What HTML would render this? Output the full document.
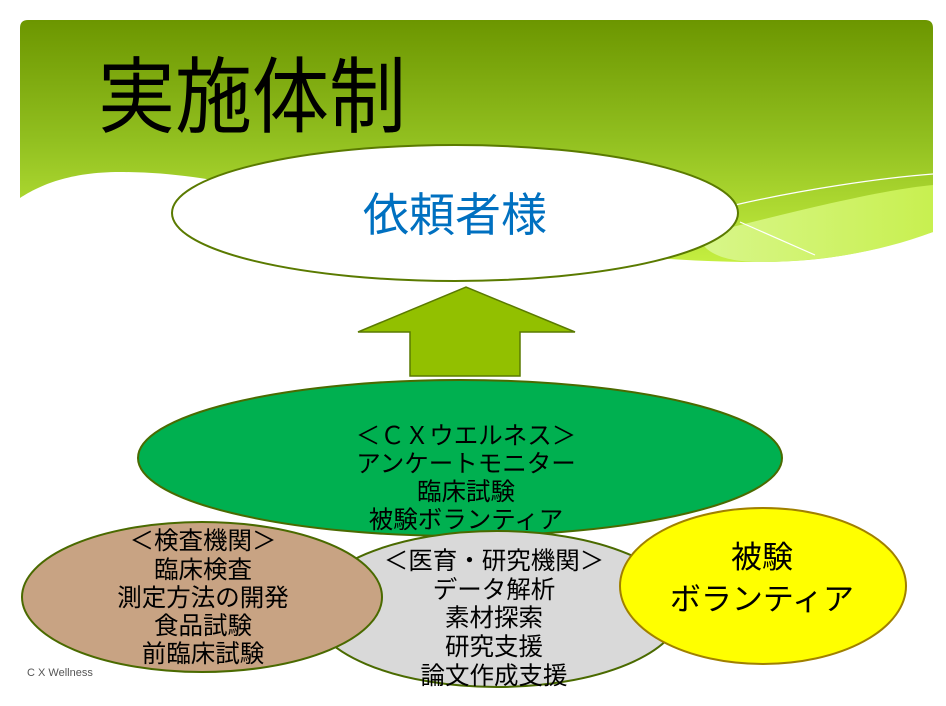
<!DOCTYPE html>
<html><head><meta charset="utf-8"><style>
html,body{margin:0;padding:0;background:#fff;}
svg{display:block;}
text{font-family:"Liberation Sans","Noto Sans CJK JP",sans-serif;}
</style></head><body>
<svg width="946" height="706" viewBox="0 0 946 706" xmlns="http://www.w3.org/2000/svg">
<defs>
<linearGradient id="g" x1="0" y1="0" x2="0" y2="1">
<stop offset="0" stop-color="#6c9600"/>
<stop offset="0.5" stop-color="#92c020"/>
<stop offset="1" stop-color="#c4ee40"/>
</linearGradient>
<linearGradient id="g2" x1="0" y1="0" x2="1" y2="0">
<stop offset="0" stop-color="#d8f68a"/>
<stop offset="1" stop-color="#c8f050"/>
</linearGradient>
</defs>
<path d="M28,20 H925 Q933,20 933,28 V232 C880,250 830,262 760,262 C650,262 560,248 470,238 C350,222 250,172 120,172 C70,172 40,185 20,198 V28 Q20,20 28,20 Z" fill="url(#g)"/>
<path d="M700,235 C800,210 880,190 933,185 V232 C880,252 820,262 760,262 C720,262 700,250 700,235 Z" fill="url(#g2)"/>
<path d="M735,205 C800,190 880,178 933,174" stroke="#fff" stroke-width="1.2" fill="none"/>
<path d="M740,222 L815,255" stroke="#fff" stroke-width="1.2" fill="none"/>
<text x="98" y="126" font-size="77" fill="#000" transform="translate(0,-10) scale(1,1.08)">実施体制</text>
<ellipse cx="455" cy="213" rx="283" ry="68" fill="#fff" stroke="#5a7a00" stroke-width="2"/>
<text x="455" y="231" font-size="46" fill="#0070c0" text-anchor="middle">依頼者様</text>
<polygon points="410,376 410,332 358,332 466,287 575,332 520,332 520,376" fill="#92c000" stroke="#5a7a00" stroke-width="1.5"/>
<ellipse cx="460" cy="458" rx="322" ry="78" fill="#00b050" stroke="#4a6a00" stroke-width="2"/>
<g font-size="24.5" fill="#000" text-anchor="middle">
<text x="466" y="444">＜ＣＸウエルネス＞</text>
<text x="466" y="472">アンケートモニター</text>
<text x="466" y="500">臨床試験</text>
<text x="466" y="528">被験ボランティア</text>
</g>
<ellipse cx="497" cy="609" rx="185" ry="78" fill="#d9d9d9" stroke="#4a6a00" stroke-width="2"/>
<ellipse cx="202" cy="597" rx="180" ry="75" fill="#c8a383" stroke="#4a6a00" stroke-width="2"/>
<ellipse cx="763" cy="586" rx="143" ry="78" fill="#ffff00" stroke="#a08000" stroke-width="2"/>
<g font-size="24.5" fill="#000" text-anchor="middle">
<text x="203" y="549">＜検査機関＞</text>
<text x="203" y="578">臨床検査</text>
<text x="203" y="606">測定方法の開発</text>
<text x="203" y="634">食品試験</text>
<text x="203" y="662">前臨床試験</text>
<text x="494" y="569">＜医育・研究機関＞</text>
<text x="494" y="598">データ解析</text>
<text x="494" y="626">素材探索</text>
<text x="494" y="655">研究支援</text>
<text x="494" y="684">論文作成支援</text>
</g>
<g font-size="31" fill="#000" text-anchor="middle">
<text x="762" y="568">被験</text>
<text x="762" y="610">ボランティア</text>
</g>
<text x="27" y="676" font-size="11" fill="#555">C X Wellness</text>
</svg>
</body></html>
